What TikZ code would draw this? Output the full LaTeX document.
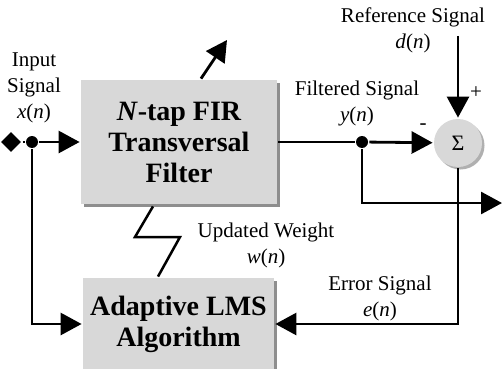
\documentclass[tikz,border=0pt]{standalone}
\usepackage{fontspec}
\setmainfont{Liberation Serif}
\usetikzlibrary{arrows.meta,shapes.geometric,shadows}
\definecolor{boxgray}{HTML}{D8D8D8}
\definecolor{shadowgray}{HTML}{8E8E8E}
\begin{document}
\begin{tikzpicture}[x=1pt,y=-1pt,
  line width=2.8pt,
  arr/.style={-{Triangle[length=21pt,width=22pt]}},
  blk/.style={fill=boxgray, drop shadow={shadow xshift=3pt,shadow yshift=-3pt,fill=shadowgray,opacity=1},
    align=center, font=\fontsize{28}{31}\selectfont\bfseries, inner sep=0pt},
  lbl/.style={align=center, font=\fontsize{21}{26}\selectfont, inner sep=0pt},
  dot/.style={circle,fill=black,inner sep=0pt,minimum size=12pt},
  sign/.style={font=\fontsize{21}{21}\selectfont, inner sep=0pt}
]
\useasboundingbox (0,0) rectangle (503,369);

% blocks
\node[blk, minimum width=196pt, minimum height=124pt] (fir) at (179,142) {\textit{N}-tap FIR\\Transversal\\Filter};
\node[blk, minimum width=191pt, minimum height=92pt] (lms) at (178.5,324) {Adaptive LMS\\Algorithm};
\node[circle, fill=boxgray, minimum size=48pt, inner sep=0pt,
  drop shadow={shadow xshift=2.5pt,shadow yshift=-2.5pt,fill=shadowgray!70,opacity=1}] (sum) at (458,143)
  {\fontsize{22}{22}\selectfont Σ};

% junctions and ends
\node[diamond, fill=black, minimum size=21pt, inner sep=0pt] (in) at (11,142) {};
\node[dot] (xd) at (32,142) {};
\node[dot] (yd) at (362,142) {};
\coordinate (out) at (502,203);
\coordinate (ref) at (458,36);
\coordinate (upd) at (227,40);

% connectors
\draw (in) -- (xd);
\draw[arr] (xd) -- (fir);
\draw[arr] (xd) |- (lms);
\draw (fir) -- (yd);
\draw[arr] (yd) -- (sum);
\draw[arr] (yd) |- (out);
\draw[arr] (ref) -- (sum);
\draw[arr] (sum) |- (lms);
\draw[arr] ([xshift=22pt]fir.north) -- (upd);
\draw[line width=2.5pt] ([xshift=-20.5pt]lms.north) -- (180,237) -- (135,237) -- ([xshift=-26pt,yshift=-1pt]fir.south);

% labels
\node[lbl] (lin) at (34,88) {Input\\Signal\\\textit{x}(\textit{n})};
\node[lbl] (lref) at (413,30) {Reference Signal\\\textit{d}(\textit{n})};
\node[lbl] (lfil) at (357,103) {Filtered Signal\\\textit{y}(\textit{n})};
\node[lbl] (lupd) at (266,245) {Updated Weight\\\textit{w}(\textit{n})};
\node[lbl] (lerr) at (380,298) {Error Signal\\\textit{e}(\textit{n})};
\node[sign] (minus) at (423,127) {-};
\node[sign] (plus) at (476,93) {+};
\end{tikzpicture}
\end{document}
